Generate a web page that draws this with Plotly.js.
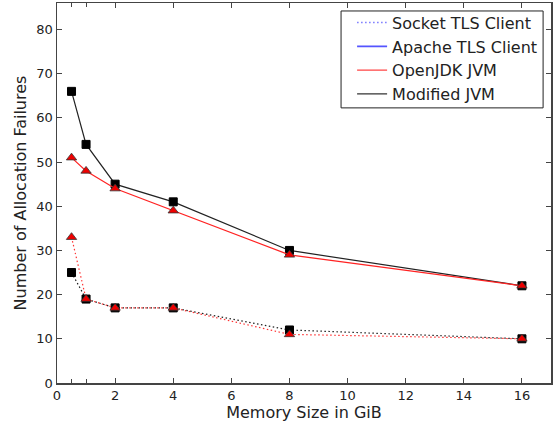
<!DOCTYPE html>
<html><head><meta charset="utf-8">
<script src="https://cdn.plot.ly/plotly-3.0.1.min.js"></script>
<style>html,body{margin:0;padding:0;background:#fff;}#c{width:558px;height:423px;}</style>
</head><body><div id="c"></div>
<script>
const memSize = [0.5, 1, 2, 4, 8, 16];
const modifiedApache = [66, 54, 45, 41, 30, 22];
const openjdkApache = [51, 48, 44, 39, 29, 22];
const modifiedSocket = [25, 19, 17, 17, 12, 10];
const openjdkSocket = [33, 19, 17, 17, 11, 10];
const legendNames = ["Socket TLS Client", "Apache TLS Client", "OpenJDK JVM", "Modified JVM"];

const sq = {symbol: "square", size: 8, color: "#000", line: {color: "#000", width: 1}};
const tri = {symbol: "triangle-up", size: 9, color: "#ee0000", line: {color: "#333", width: 0.8}};

const traces = [
  {x: memSize, y: modifiedSocket, mode: "lines+markers", line: {color: "#222", width: 1.2, dash: "1.5px,2.5px"}, marker: sq, showlegend: false},
  {x: memSize, y: openjdkSocket, mode: "lines+markers", line: {color: "#ff3333", width: 1.2, dash: "1.5px,2.5px"}, marker: tri, showlegend: false},
  {x: memSize, y: modifiedApache, mode: "lines+markers", line: {color: "#222", width: 1.2}, marker: sq, showlegend: false},
  {x: memSize, y: openjdkApache, mode: "lines+markers", line: {color: "#ff2222", width: 1.2}, marker: tri, showlegend: false},
  {x: [null], y: [null], mode: "lines", name: legendNames[0], legendgroup: "a", line: {color: "#7777ff", width: 1.4, dash: "1.5px,2.5px"}},
  {x: [null], y: [null], mode: "lines", name: legendNames[1], legendgroup: "b", line: {color: "#5555ff", width: 1.8}},
  {x: [null], y: [null], mode: "lines", name: legendNames[2], legendgroup: "c", line: {color: "#ff4444", width: 1.2}},
  {x: [null], y: [null], mode: "lines", name: legendNames[3], legendgroup: "d", line: {color: "#333", width: 1.2}}
];

const axisCommon = {
  showgrid: false, zeroline: false, showline: true, linecolor: "#444", linewidth: 1.5,
  mirror: "ticks", ticks: "inside", ticklen: 5, tickcolor: "#444", tickwidth: 1,
  tickfont: {family: "DejaVu Sans", size: 13, color: "#222"}
};

const layout = {
  width: 558, height: 423,
  margin: {l: 57, r: 7, t: 3, b: 40},
  paper_bgcolor: "#fff", plot_bgcolor: "#fff",
  font: {family: "DejaVu Sans", color: "#222"},
  xaxis: Object.assign({}, axisCommon, {
    range: [0, 17], tickmode: "array", tickvals: [0, 2, 4, 6, 8, 10, 12, 14, 16],
    title: {text: "Memory Size in GiB", font: {size: 16, family: "DejaVu Sans"}, standoff: 3},
    minor: {tickmode: "array", tickvals: [0.5, 1], ticks: "inside", ticklen: 4, tickcolor: "#444"}
  }),
  yaxis: Object.assign({}, axisCommon, {
    range: [0, 86], tickmode: "array", tickvals: [0, 10, 20, 30, 40, 50, 60, 70, 80],
    title: {text: "Number of Allocation Failures", font: {size: 16, family: "DejaVu Sans"}, standoff: 6}
  }),
  shapes: [{
    type: "rect", xref: "paper", yref: "paper",
    x0: 0.575, x1: 0.984, y0: 0.724, y1: 0.979,
    line: {color: "#222", width: 1}, fillcolor: "#fff", layer: "above"
  }],
  legend: {
    x: 0.984, y: 0.993, xanchor: "right", yanchor: "top",
    borderwidth: 0, bgcolor: "rgba(0,0,0,0)",
    font: {family: "DejaVu Sans", size: 16, color: "#222"},
    traceorder: "grouped", tracegroupgap: 0
  },
  showlegend: true
};

Plotly.newPlot("c", traces, layout, {displayModeBar: false, staticPlot: true});
</script>
</body></html>
